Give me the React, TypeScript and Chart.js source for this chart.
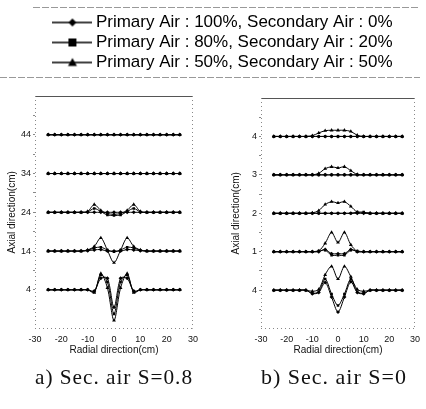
import React, { useEffect, useRef } from "react";
import { Chart, registerables } from "chart.js";

Chart.register(...registerables);
Chart.defaults.font.family = "'Liberation Sans', Arial, sans-serif";

// ---------------- data ----------------
const radialPositions = [-25, -22.5, -20, -17.5, -15, -12.5, -10, -7.5, -5, -2.5, 0, 2.5, 5, 7.5, 10, 12.5, 15, 17.5, 20, 22.5, 25];
const axialLevels = [44, 34, 24, 14, 4];
const axialMinorTicks = [-1, 9, 19, 29, 39, 49];
const leftAxialTickLabels = ["44", "34", "24", "14", "4"];
const rightAxialTickLabels = ["4", "3", "2", "1", "4"];
const seriesLabels = [
  "Primary Air : 100%, Secondary Air : 0%",
  "Primary Air : 80%, Secondary Air : 20%",
  "Primary Air : 50%, Secondary Air : 50%",
];
const captions = ["a) Sec. air S=0.8", "b) Sec. air S=0"];

// deviations from each axial level (rows: levels 44, 34, 24, 14, 4)
const s08Primary100 = [
  [0, 0, 0, 0, 0, 0, 0, 0, 0, 0, 0, 0, 0, 0, 0, 0, 0, 0, 0, 0, 0],
  [0, 0, 0, 0, 0, 0, 0, 0, 0, 0, 0, 0, 0, 0, 0, 0, 0, 0, 0, 0, 0],
  [0, 0, 0, 0, 0, 0, 0, 0, 0, 0, 0, 0, 0, 0, 0, 0, 0, 0, 0, 0, 0],
  [0, 0, 0, 0, 0, 0, 0.1, 0.3, 0.4, 0, 0, 0, 0.4, 0.3, 0.1, 0, 0, 0, 0, 0, 0],
  [0, 0, 0, 0, 0, 0, 0, -0.3, 3.0, 3.0, -4.5, 3.0, 3.0, -0.3, 0, 0, 0, 0, 0, 0, 0],
];
const s08Primary80 = [
  [0, 0, 0, 0, 0, 0, 0, 0, 0, 0, 0, 0, 0, 0, 0, 0, 0, 0, 0, 0, 0],
  [0, 0, 0, 0, 0, 0, 0, 0, 0, 0, 0, 0, 0, 0, 0, 0, 0, 0, 0, 0, 0],
  [0, 0, 0, 0, 0, 0, 0.1, 1.0, 0.2, -0.7, -0.8, -0.7, 0.2, 1.0, 0.1, 0, 0, 0, 0, 0, 0],
  [0, 0, 0, 0, 0, 0, 0.2, 0.8, 1.0, 0.3, -0.2, 0.3, 1.0, 0.8, 0.2, 0, 0, 0, 0, 0, 0],
  [0, 0, 0, 0, 0, 0, 0, -0.5, 3.8, 2.0, -6.2, 2.0, 3.8, -0.5, 0, 0, 0, 0, 0, 0, 0],
];
const s08Primary50 = [
  [0, 0, 0, 0, 0, 0, 0, 0, 0, 0, 0, 0, 0, 0, 0, 0, 0, 0, 0, 0, 0],
  [0, 0, 0, 0, 0, 0, 0, 0, 0, 0, 0, 0, 0, 0, 0, 0, 0, 0, 0, 0, 0],
  [0, 0, 0, 0, 0, 0, 0.2, 2.0, 0.5, -0.3, -0.5, -0.3, 0.5, 2.0, 0.2, 0, 0, 0, 0, 0, 0],
  [0, 0, 0, 0, 0, 0, 0.3, 1.2, 3.4, 0.2, -3.0, 0.2, 3.4, 1.2, 0.3, 0, 0, 0, 0, 0, 0],
  [0, 0, 0, 0, 0, 0, 0, -0.7, 4.2, 0.5, -7.9, 0.5, 4.2, -0.7, 0, 0, 0, 0, 0, 0, 0],
];

const s0Primary100 = [
  [0, 0, 0, 0, 0, 0, 0, 0, 0, 0, 0, 0, 0, 0, 0, 0, 0, 0, 0, 0, 0],
  [0, 0, 0, 0, 0, 0, 0, 0, 0, 0, 0, 0, 0, 0, 0, 0, 0, 0, 0, 0, 0],
  [0, 0, 0, 0, 0, 0, 0, 0, 0, 0, 0, 0, 0, 0, 0, 0, 0, 0, 0, 0, 0],
  [0, 0, 0, 0, 0, 0, 0, 0, 0.6, -0.5, -0.5, -0.5, 0.6, 0, 0, 0, 0, 0, 0, 0, 0],
  [0, 0, 0, 0, 0, 0, -0.9, -0.6, 2.0, -1.8, -5.7, -1.8, 2.2, -0.6, -0.9, 0, 0, 0, 0, 0, 0],
];
const s0Primary80 = [
  [0, 0, 0, 0, 0, 0, 0, 0, 0, 0, 0, 0, 0, 0, 0, 0, 0, 0, 0, 0, 0],
  [0, 0, 0, 0, 0, 0, 0, 0, 0, 0, 0, 0, 0, 0, 0, 0, 0, 0, 0, 0, 0],
  [0, 0, 0, 0, 0, 0, 0, 0, 0, 0, 0, 0, 0, 0.3, 0.3, 0, 0, 0, 0, 0, 0],
  [0, 0, 0, 0, 0, 0, 0, 0.2, 0.4, -0.9, -0.9, -0.9, 0.4, 0.2, 0, 0, 0, 0, 0, 0, 0],
  [0, 0, 0, 0, 0, 0, -0.8, -0.4, 2.9, -1.0, -4.0, -1.0, 2.9, -0.4, -0.8, 0, 0, 0, 0, 0, 0],
];
const s0Primary50 = [
  [0, 0, 0, 0, 0, 0, 0.2, 0.9, 1.5, 1.6, 1.6, 1.6, 1.3, 0.3, 0, 0, 0, 0, 0, 0, 0],
  [0, 0, 0, 0, 0, 0, 0, 0.4, 1.6, 2.1, 1.8, 2.1, 1.1, 0.1, 0, 0, 0, 0, 0, 0, 0],
  [0, 0, 0, 0, 0, 0, 0.1, 0.7, 2.3, 3.0, 2.7, 3.0, 1.8, 0.3, 0.1, 0, 0, 0, 0, 0, 0],
  [0, 0, 0, 0, 0, 0, 0, 0.2, 2.2, 5.0, 2.4, 5.0, 1.8, 0.1, 0, 0, 0, 0, 0, 0, 0],
  [0, 0, 0, 0, 0, 0, -0.3, 0.2, 4.0, 6.2, 2.9, 6.2, 3.5, 0.2, -0.3, 0, 0, 0, 0, 0, 0],
];

// ---------------- styling ----------------
const markerStyles = ["rectRot", "rect", "triangle"];
const markerRadii = [2, 1.8, 2.2];

function makeLegendImage(kind: number): HTMLCanvasElement {
  const c = document.createElement("canvas");
  c.width = 40;
  c.height = 14;
  const g = c.getContext("2d")!;
  g.strokeStyle = "#000";
  g.fillStyle = "#000";
  g.lineWidth = 1.6;
  g.beginPath();
  g.moveTo(0, 7);
  g.lineTo(40, 7);
  g.stroke();
  const cx = 20;
  const cy = 7;
  g.beginPath();
  if (kind === 0) {
    g.moveTo(cx, cy - 4);
    g.lineTo(cx + 4, cy);
    g.lineTo(cx, cy + 4);
    g.lineTo(cx - 4, cy);
  } else if (kind === 1) {
    g.rect(cx - 4, cy - 4, 8, 8);
  } else {
    g.moveTo(cx, cy - 4.5);
    g.lineTo(cx + 4.5, cy + 3.5);
    g.lineTo(cx - 4.5, cy + 3.5);
  }
  g.closePath();
  g.fill();
  return c;
}

const framePlugin = {
  id: "panelFrame",
  afterDatasetsDraw(chart: any) {
    const { ctx, chartArea: a } = chart;
    ctx.save();
    ctx.lineWidth = 1;
    ctx.strokeStyle = "#555";
    ctx.beginPath();
    ctx.moveTo(a.left, Math.round(a.top) + 0.5);
    ctx.lineTo(a.right, Math.round(a.top) + 0.5);
    ctx.stroke();
    ctx.setLineDash([1, 3]);
    ctx.strokeStyle = "#888";
    ctx.beginPath();
    ctx.moveTo(Math.round(a.left) + 0.5, a.top);
    ctx.lineTo(Math.round(a.left) + 0.5, a.bottom);
    ctx.moveTo(Math.round(a.right) - 0.5, a.top);
    ctx.lineTo(Math.round(a.right) - 0.5, a.bottom);
    ctx.moveTo(a.left, Math.round(a.bottom) - 0.5);
    ctx.lineTo(a.right, Math.round(a.bottom) - 0.5);
    ctx.stroke();
    ctx.restore();
  },
};

// widen the serif caption a little, like the printed figure
const captionSpacingPlugin = {
  id: "captionSpacing",
  beforeDraw(chart: any) {
    const tb = chart.titleBlock;
    if (tb && !tb.__spaced) {
      const orig = tb.draw.bind(tb);
      tb.draw = (...args: any[]) => {
        const ctx = chart.ctx;
        ctx.save();
        (ctx as any).letterSpacing = "1px";
        orig(...args);
        (ctx as any).letterSpacing = "0px";
        ctx.restore();
      };
      tb.__spaced = true;
    }
  },
};

const rulePlugin = {
  id: "legendRules",
  afterDraw(chart: any) {
    const { ctx } = chart;
    ctx.save();
    ctx.lineWidth = 1;
    ctx.strokeStyle = "#999";
    ctx.setLineDash([7, 2]);
    ctx.beginPath();
    ctx.moveTo(33, 7.5);
    ctx.lineTo(420, 7.5);
    ctx.moveTo(0, 77.5);
    ctx.lineTo(420, 77.5);
    ctx.stroke();
    ctx.restore();
  },
};

function legendConfig(): any {
  const images = [0, 1, 2].map((k) => makeLegendImage(k));
  return {
    type: "line",
    data: {
      datasets: seriesLabels.map((label, i) => ({
        label,
        data: [],
        borderColor: "#000",
        backgroundColor: "#000",
        pointStyle: images[i],
      })),
    },
    options: {
      animation: false,
      responsive: false,
      layout: { padding: { top: 11, bottom: 0, left: 24, right: 0 } },
      scales: { x: { display: false }, y: { display: false } },
      plugins: {
        tooltip: { enabled: false },
        legend: {
          display: true,
          position: "top",
          align: "center",
          labels: {
            usePointStyle: true,
            pointStyleWidth: 30,
            padding: 3,
            color: "#000",
            font: { size: 17 },
            generateLabels: () =>
              seriesLabels.map((text, i) => ({
                text,
                pointStyle: images[i],
                fillStyle: "#000",
                strokeStyle: "#000",
                lineWidth: 0,
                hidden: false,
                datasetIndex: i,
              })),
          },
        },
      },
    },
    plugins: [rulePlugin],
  };
}

function panelConfig(
  series: number[][][],
  tickLabels: string[],
  caption: string,
  padTop: number,
  padRight: number,
  yWidth: number,
  yTitlePad: number,
  captionAlign: string
): any {
  const datasets: any[] = [];
  series.forEach((levels, s) => {
    levels.forEach((dev, l) => {
      datasets.push({
        label: seriesLabels[s] + " @" + axialLevels[l],
        data: radialPositions.map((x, i) => ({ x, y: axialLevels[l] + dev[i] })),
        borderColor: "#000",
        backgroundColor: "#000",
        borderWidth: 1,
        pointStyle: markerStyles[s],
        pointRadius: markerRadii[s],
        pointBorderWidth: 0,
        tension: 0.3,
        fill: false,
      });
    });
  });
  const yTicks = [...axialLevels, ...axialMinorTicks].sort((a, b) => a - b);
  return {
    type: "line",
    data: { datasets },
    options: {
      animation: false,
      responsive: false,
      layout: { padding: { top: padTop, right: padRight, left: 0, bottom: 0 } },
      plugins: {
        legend: { display: false },
        tooltip: { enabled: false },
        title: {
          display: true,
          text: caption,
          position: "bottom",
          fullSize: false,
          align: captionAlign,
          color: "#111",
          font: { family: "'Liberation Serif', 'Times New Roman', serif", size: 22, weight: "normal" },
          padding: { top: 6, bottom: 18 },
        },
      },
      scales: {
        x: {
          type: "linear",
          min: -30,
          max: 30,
          ticks: { stepSize: 10, color: "#111", font: { size: 9 }, padding: 6 },
          grid: { display: false, drawTicks: false },
          border: { display: false },
          title: {
            display: true,
            text: "Radial direction(cm)",
            color: "#111",
            font: { size: 10 },
            padding: { top: 0, bottom: 2 },
          },
          afterFit: (scale: any) => {
            scale.height = 30;
          },
        },
        y: {
          type: "linear",
          min: -6,
          max: 54,
          afterBuildTicks: (scale: any) => {
            scale.ticks = yTicks.map((v) => ({ value: v }));
          },
          ticks: {
            autoSkip: false,
            color: "#111",
            font: { size: 9 },
            padding: 2,
            callback: (value: number) => {
              const i = axialLevels.indexOf(value);
              return i >= 0 ? tickLabels[i] : "";
            },
          },
          grid: { display: true, drawOnChartArea: false, drawTicks: true, tickLength: 2, color: "#888" },
          border: { display: false },
          title: {
            display: true,
            text: "Axial direction(cm)",
            color: "#111",
            font: { size: 10 },
            padding: { top: yTitlePad, bottom: 0 },
          },
          afterFit: (scale: any) => {
            scale.width = yWidth;
          },
        },
      },
    },
    plugins: [framePlugin, captionSpacingPlugin],
  };
}

export default function App() {
  const legendRef = useRef<HTMLCanvasElement>(null);
  const leftRef = useRef<HTMLCanvasElement>(null);
  const rightRef = useRef<HTMLCanvasElement>(null);

  useEffect(() => {
    const charts = [
      new Chart(legendRef.current!, legendConfig()),
      new Chart(
        leftRef.current!,
        panelConfig([s08Primary100, s08Primary80, s08Primary50], leftAxialTickLabels, captions[0], 16, 20, 35, 6, "center")
      ),
      new Chart(
        rightRef.current!,
        panelConfig([s0Primary100, s0Primary80, s0Primary50], rightAxialTickLabels, captions[1], 18, 9, 48, 17, "start")
      ),
    ];
    return () => charts.forEach((c) => c.destroy());
  }, []);

  return (
    <div style={{ position: "absolute", left: 0, top: 0, width: 426, height: 409, background: "#fff", overflow: "hidden" }}>
      <canvas ref={legendRef} width={426} height={220} style={{ position: "absolute", left: 0, top: 0 }} />
      <canvas ref={leftRef} width={213} height={329} style={{ position: "absolute", left: 0, top: 80 }} />
      <canvas ref={rightRef} width={213} height={329} style={{ position: "absolute", left: 213, top: 80 }} />
    </div>
  );
}
